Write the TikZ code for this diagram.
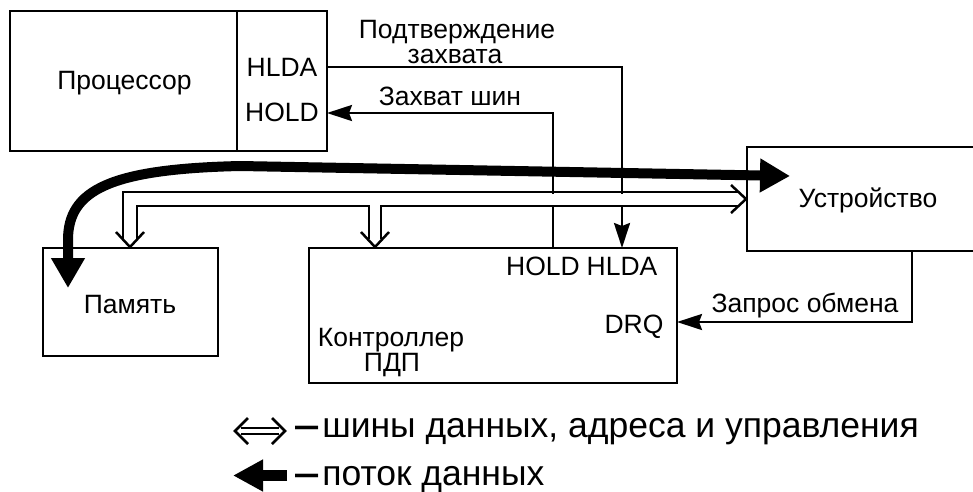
\documentclass[tikz,border=0pt]{standalone}
\usepackage{fontspec}
\setmainfont{Liberation Sans}
\usetikzlibrary{arrows.meta}
\begin{document}
\begin{tikzpicture}[x=1pt,y=-1pt,
  box/.style={draw, line width=2pt, rectangle, inner sep=0pt},
  lbl/.style={inner sep=0pt, anchor=base, font=\fontsize{26.5}{30}\selectfont},
  leg/.style={inner sep=0pt, anchor=base west, font=\fontsize{35.5}{40}\selectfont},
  sig/.style={line width=2.5pt, -{Stealth[length=25pt,width=16pt,inset=3pt]}},
  busline/.style={line width=2.5pt},
  flow/.style={line width=10pt, {Triangle[length=30pt,width=32pt]}-{Triangle[length=30pt,width=32pt]}}
]
\useasboundingbox (0,0) rectangle (973,491);

% boxes
\node[box, minimum width=317pt, minimum height=140pt] (proc) at (168.5,81) {};
\draw[line width=2pt] (237,11) -- (237,151);
\node[box, minimum width=175pt, minimum height=108pt] (mem) at (130.5,302) {};
\node[box, minimum width=368pt, minimum height=135pt] (ctrl) at (493,315.5) {};
\node[box, minimum width=243pt, minimum height=104pt] (dev) at (868.5,199) {};

% labels
\node[lbl] (tproc) at (124.5,89) {Процессор};
\node[lbl] (phlda) at (282,76) {HLDA};
\node[lbl] (phold) at (282,121) {HOLD};
\node[lbl] (tconf1) at (457,38) {Подтверждение};
\node[lbl] (tconf2) at (455,63) {захвата};
\node[lbl] (tcap) at (450,105) {Захват шин};
\node[lbl] (tdev) at (868,207) {Устройство};
\node[lbl] (tmem) at (130,313) {Память};
\node[lbl] (chold) at (543,275) {HOLD};
\node[lbl] (chlda) at (622,275) {HLDA};
\node[lbl] (tctrl1) at (391,346) {Контроллер};
\node[lbl] (tctrl2) at (392,371) {ПДП};
\node[lbl] (cdrq) at (634,333) {DRQ};
\node[lbl] (treq) at (805,312) {Запрос обмена};

% signal connectors
\coordinate (pA) at (327,67);
\coordinate (cA) at (622,248);
\coordinate (cH) at (553,248);
\coordinate (pH) at (327,113);
\coordinate (dR) at (912,251);
\coordinate (cR) at (677,322);
\draw[sig] (pA) -| (cA);
\draw[sig] (cH) |- (pH);
\draw[sig] (dR) |- (cR);

% bus (hollow pipe)
\fill[white] (124,193.5) rectangle (740,204.5);
\fill[white] (124,193.5) rectangle (136,238);
\fill[white] (370,204) rectangle (380,238);
\draw[busline] (123,239) -- (123,192) -- (738,192);
\draw[busline] (137,239) -- (137,206) -- (369,206) -- (369,239);
\draw[busline] (381,239) -- (381,206) -- (738,206);
\coordinate (mtip) at (130,247);
\coordinate (ctip) at (375,247);
\coordinate (dtip) at (746,199);
\draw[busline, line join=miter] (116,232) -- (mtip) -- (144,232);
\draw[busline, line join=miter] (361,232) -- (ctip) -- (389,232);
\draw[busline, line join=miter] (731,185) -- (dtip) -- (731,213);

% data flow
\coordinate (fdev) at (790,176);
\coordinate (fmem) at (68,288);
\draw[flow] (fdev) -- (240,166) .. controls (110,169) and (68,190) .. (68,240) -- (fmem);

% legend
\draw[busline] (241,428) -- (279,428);
\draw[busline] (241,434) -- (279,434);
\draw[busline, line join=miter] (248,418) -- (235,431) -- (248,444);
\draw[busline, line join=miter] (272,418) -- (285,431) -- (272,444);
\draw[line width=11pt, -{Triangle[length=30pt,width=30pt]}] (287,475.5) -- (233,475.5);
\node[leg] (leg1) at (295,437) {\scalebox{0.65}[1]{\textbf{—}}\kern4pt шины данных, адреса и управления};
\node[leg] (leg2) at (295,485) {\scalebox{0.65}[1]{\textbf{—}}\kern4pt поток данных};
\end{tikzpicture}
\end{document}
